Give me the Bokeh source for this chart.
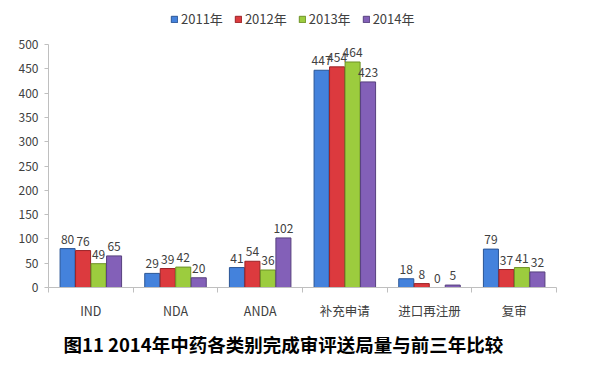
from bokeh.plotting import figure
from bokeh.models import (Range1d, FixedTicker, LinearAxis, Legend, LegendItem,
                          Title, ColumnDataSource)
from bokeh.embed import file_html
from bokeh.resources import INLINE

categories = ["IND", "NDA", "ANDA", "补充申请", "进口再注册", "复审"]
series_names = ["2011年", "2012年", "2013年", "2014年"]
v2011 = [80, 29, 41, 447, 18, 79]
v2012 = [76, 39, 54, 454, 8, 37]
v2013 = [49, 42, 36, 464, 0, 41]
v2014 = [65, 20, 102, 423, 5, 32]
y_ticks = [0, 50, 100, 150, 200, 250, 300, 350, 400, 450, 500]
title_text = "图11 2014年中药各类别完成审评送局量与前三年比较"

fills = ["#4482dc", "#dc3a3e", "#9ccc3e", "#8360b8"]
lines = ["#2a5595", "#9a2226", "#6d9226", "#57407e"]

FONT = "Noto Sans CJK SC"
TXT = "#404040"

# frame extends above the 500 line to leave room for the legend
axis_px = 243
frame_h = 279
y_top = y_ticks[-1] * frame_h / axis_px

p = figure(frame_width=508, frame_height=frame_h, output_backend="svg",
           toolbar_location=None,
           x_range=Range1d(0, len(categories)), y_range=Range1d(0, y_top),
           min_border_left=48, min_border_right=23, min_border_top=8,
           min_border_bottom=10, x_axis_type=None, y_axis_type=None)
p.outline_line_color = None
p.xgrid.visible = False
p.ygrid.visible = False
p.background_fill_color = "white"

# y axis
yax = LinearAxis(ticker=FixedTicker(ticks=y_ticks), bounds=(0, y_ticks[-1]))
yax.axis_line_color = "#bfbfbf"
yax.major_tick_line_color = "#bfbfbf"
yax.major_tick_out = 4
yax.major_tick_in = 0
yax.minor_tick_line_color = None
yax.major_label_text_font = FONT
yax.major_label_text_font_size = "12px"
yax.major_label_text_color = TXT
yax.major_label_standoff = 6
p.add_layout(yax, "left")

# x axis
centers = [i + 0.5 for i in range(len(categories))]
xax = LinearAxis(ticker=FixedTicker(ticks=centers,
                                    minor_ticks=list(range(len(categories) + 1))))
xax.major_label_overrides = {c: cat for c, cat in zip(centers, categories)}
xax.axis_line_color = "#bfbfbf"
xax.major_tick_line_color = None
xax.major_tick_out = 0
xax.major_tick_in = 0
xax.minor_tick_line_color = "#bfbfbf"
xax.minor_tick_out = 5
xax.minor_tick_in = 0
xax.major_label_text_font = FONT
xax.major_label_text_font_size = "12.5px"
xax.major_label_text_color = TXT
xax.major_label_standoff = 8
p.add_layout(xax, "below")

w = 0.183
all_vals = [v2011, v2012, v2013, v2014]
items = []
for k, vals in enumerate(all_vals):
    off = (k - 1.5) * w
    xs = [c + off for c in centers]
    src = ColumnDataSource(dict(x=xs, top=vals, lab=[str(v) for v in vals]))
    r = p.vbar(x="x", top="top", width=w * 0.97, bottom=0, source=src,
               fill_color=fills[k], line_color=lines[k], line_width=1)
    p.text(x="x", y="top", text="lab", source=src, text_align="center",
           text_baseline="bottom", y_offset=-5, text_font_size="12px",
           text_color=TXT, text_font={"value": FONT})
    items.append(LegendItem(label=series_names[k], renderers=[r]))

legend = Legend(items=items, orientation="horizontal", location=(122, 259))
legend.glyph_width = 8
legend.glyph_height = 8
legend.label_text_font = FONT
legend.label_text_font_size = "13px"
legend.label_text_color = TXT
legend.label_standoff = 3
legend.spacing = 11
legend.padding = 2
legend.margin = 0
legend.border_line_color = None
legend.background_fill_alpha = 0
legend.label_height = 14
p.add_layout(legend, "center")

t = Title(text=title_text, align="left", offset=15, text_font=FONT,
          text_font_size="18.5px", text_font_style="bold", text_color="#000000",
          standoff=12)
p.add_layout(t, "below")

open("out.html", "w").write(file_html(p, INLINE))
